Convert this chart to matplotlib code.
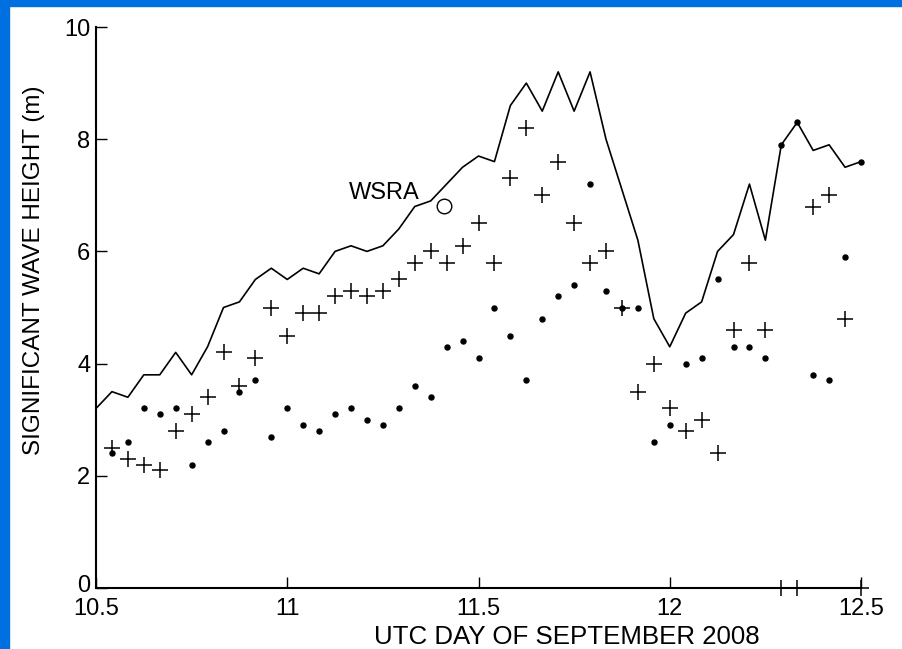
import matplotlib
matplotlib.use("Agg")
import matplotlib.pyplot as plt
import matplotlib.transforms as mtransforms
import numpy as np
from matplotlib.patches import Rectangle

plt.rcParams["font.family"] = ["Liberation Sans", "DejaVu Sans"]

# hourly samples on 10.5 .. 12.5 UTC day
hours = np.arange(0, 49)
days = 10.5 + hours / 24.0

# solid line (model)
line_hs = [3.2, 3.5, 3.4, 3.8, 3.8, 4.2, 3.8, 4.3, 5.0, 5.1,
           5.5, 5.7, 5.5, 5.7, 5.6, 6.0, 6.1, 6.0, 6.1, 6.4,
           6.8, 6.9, 7.2, 7.5, 7.7, 7.6, 8.6, 9.0, 8.5, 9.2,
           8.5, 9.2, 8.0, 7.1, 6.2, 4.8, 4.3, 4.9, 5.1, 6.0,
           6.3, 7.2, 6.2, 7.9, 8.3, 7.8, 7.9, 7.5, 7.6]

# "+" markers, hours 1..48
plus_hs = [2.5, 2.3, 2.2, 2.1, 2.8, 3.1, 3.4, 4.2, 3.6, 4.1,
           5.0, 4.5, 4.9, 4.9, 5.2, 5.3, 5.2, 5.3, 5.5, 5.8,
           6.0, 5.8, 6.1, 6.5, 5.8, 7.3, 8.2, 7.0, 7.6, 6.5,
           5.8, 6.0, 5.0, 3.5, 4.0, 3.2, 2.8, 3.0, 2.4, 4.6,
           5.8, 4.6, 0.0, 0.0, 6.8, 7.0, 4.8, 0.0]

# dot markers, hours 1..48
dot_hs = [2.4, 2.6, 3.2, 3.1, 3.2, 2.2, 2.6, 2.8, 3.5, 3.7,
          2.7, 3.2, 2.9, 2.8, 3.1, 3.2, 3.0, 2.9, 3.2, 3.6,
          3.4, 4.3, 4.4, 4.1, 5.0, 4.5, 3.7, 4.8, 5.2, 5.4,
          7.2, 5.3, 5.0, 5.0, 2.6, 2.9, 4.0, 4.1, 5.5, 4.3,
          4.3, 4.1, 7.9, 8.3, 3.8, 3.7, 5.9, 7.6]

wsra_day, wsra_hs = 11.41, 6.81

fig = plt.figure(figsize=(9.02, 6.49), dpi=100)
fig.patches.append(Rectangle((0, 0), 9 / 902, 1, transform=fig.transFigure,
                             color="#0070e0", zorder=0))
fig.patches.append(Rectangle((0, 1 - 6 / 649), 1, 6 / 649, transform=fig.transFigure,
                             color="#0070e0", zorder=0))

ax = fig.add_axes([96 / 902, 1 - 588 / 649, (861 - 96) / 902, (588 - 27) / 649])
ax.plot(days, line_hs, color="black", linewidth=1.2)
ax.plot(days[1:], plus_hs, linestyle="none", marker="+", markersize=12,
        markeredgewidth=1.1, color="black", clip_on=False)
ax.plot(days[1:], dot_hs, linestyle="none", marker="o", markersize=3.6,
        color="black", clip_on=False)
ax.plot([wsra_day], [wsra_hs], linestyle="none", marker="o", markersize=10.5,
        markerfacecolor="none", markeredgecolor="black", markeredgewidth=1.0)
ax.text(11.254, 7.04, "WSRA", fontsize=17, ha="center", va="center")

ax.set_xlim(10.5, 12.5)
ax.set_ylim(0, 10)
ax.set_xticks([10.5, 11, 11.5, 12, 12.5])
ax.set_xticklabels(["10.5", "11", "11.5", "12", "12.5"])
ax.set_yticks([0, 2, 4, 6, 8, 10])
ax.tick_params(direction="in", length=8, width=1.0, labelsize=17)
ax.tick_params(axis="x", pad=7)
ax.tick_params(axis="y", pad=4)
for side in ("top", "right"):
    ax.spines[side].set_visible(False)
for side in ("left", "bottom"):
    ax.spines[side].set_linewidth(1.5)

# nudge the "0" label up a little so it clears "10.5"
zero_label = ax.get_yticklabels()[0]
zero_label.set_transform(zero_label.get_transform() +
                         mtransforms.ScaledTranslation(0, 3 / 72, fig.dpi_scale_trans))

ax.set_xlabel("UTC DAY OF SEPTEMBER 2008", fontsize=18.6, labelpad=5)
ax.xaxis.set_label_coords(0.616, -0.066)
ax.set_ylabel("SIGNIFICANT WAVE HEIGHT (m)", fontsize=17.5)
ax.yaxis.set_label_coords(-0.067, 0.567)

fig.savefig("out.png", dpi=100, facecolor="white")
